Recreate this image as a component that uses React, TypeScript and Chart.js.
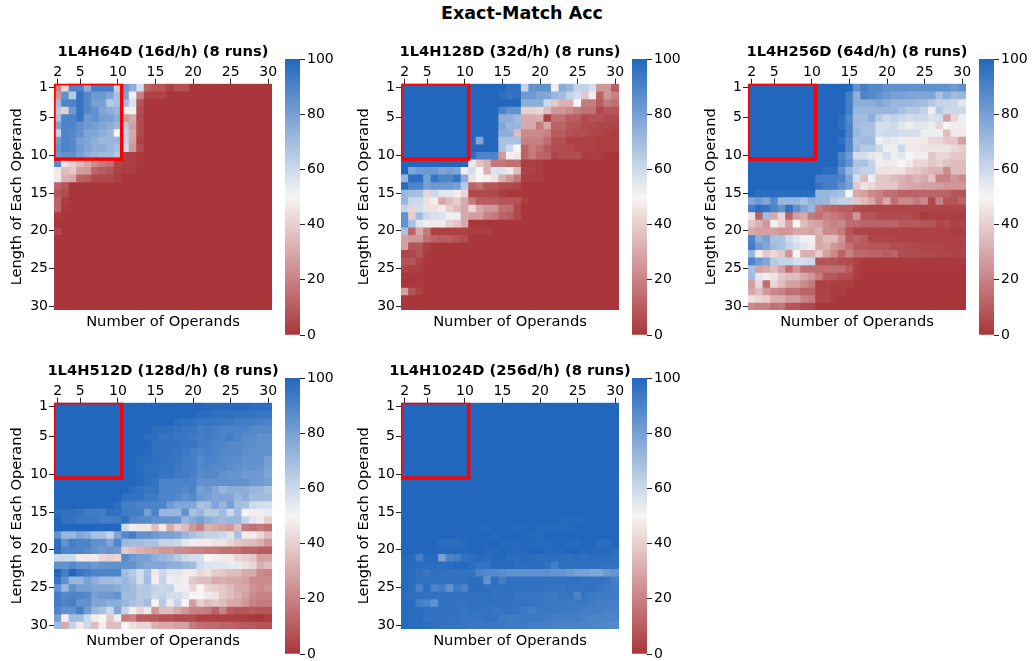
import React, { useEffect, useRef } from "react";
import { Chart, registerables } from "chart.js";
Chart.register(...registerables);

const operands = [2,3,4,5,6,7,8,9,10,11,12,13,14,15,16,17,18,19,20,21,22,23,24,25,26,27,28,29,30];
const lengths = [1,2,3,4,5,6,7,8,9,10,11,12,13,14,15,16,17,18,19,20,21,22,23,24,25,26,27,28,29,30];
const xTicks = [2,5,10,15,20,25,30];
const yTicks = [1,5,10,15,20,25,30];
const barTicks = [0,20,40,60,80,100];
const boxOperands = [2,10];
const boxLengths = [1,10];

const acc64 = [
[20,42,90,90,75,92,92,92,62,82,75,58,12,8,8,3,7,7,0,0,0,0,0,0,0,0,0,0,0],
[25,85,65,95,88,82,82,78,68,80,52,20,3,3,3,0,0,0,0,0,0,0,0,0,0,0,0,0,0],
[70,90,90,95,88,80,80,65,68,70,57,8,0,0,0,0,0,0,0,0,0,0,0,0,0,0,0,0,0],
[65,40,82,95,88,85,78,75,72,48,52,6,0,0,0,0,0,0,0,0,0,0,0,0,0,0,0,0,0],
[68,90,90,95,82,85,80,80,75,25,30,5,0,0,0,0,0,0,0,0,0,0,0,0,0,0,0,0,0],
[80,90,90,85,82,80,78,75,72,65,28,6,0,0,0,0,0,0,0,0,0,0,0,0,0,0,0,0,0],
[62,90,88,85,78,78,75,72,50,62,30,5,0,0,0,0,0,0,0,0,0,0,0,0,0,0,0,0,0],
[82,90,88,80,78,75,72,72,72,62,28,3,0,0,0,0,0,0,0,0,0,0,0,0,0,0,0,0,0],
[85,90,88,82,78,75,75,72,68,58,25,6,0,0,0,0,0,0,0,0,0,0,0,0,0,0,0,0,0],
[82,85,85,80,75,72,70,70,65,3,2,0,0,0,0,0,0,0,0,0,0,0,0,0,0,0,0,0,0],
[88,45,40,35,30,22,18,15,4,2,2,0,0,0,0,0,0,0,0,0,0,0,0,0,0,0,0,0,0],
[47,35,38,27,25,12,10,8,3,2,2,0,0,0,0,0,0,0,0,0,0,0,0,0,0,0,0,0,0],
[47,32,30,12,10,5,5,5,2,0,0,0,0,0,0,0,0,0,0,0,0,0,0,0,0,0,0,0,0],
[12,8,0,0,0,0,0,0,0,0,0,0,0,0,0,0,0,0,0,0,0,0,0,0,0,0,0,0,0],
[8,6,0,0,0,0,0,0,0,0,0,0,0,0,0,0,0,0,0,0,0,0,0,0,0,0,0,0,0],
[12,2,0,0,0,0,0,0,0,0,0,0,0,0,0,0,0,0,0,0,0,0,0,0,0,0,0,0,0],
[12,1,0,0,0,0,0,0,0,0,0,0,0,0,0,0,0,0,0,0,0,0,0,0,0,0,0,0,0],
[1,0,0,0,0,0,0,0,0,0,0,0,0,0,0,0,0,0,0,0,0,0,0,0,0,0,0,0,0],
[0,0,0,0,0,0,0,0,0,0,0,0,0,0,0,0,0,0,0,0,0,0,0,0,0,0,0,0,0],
[5,0,0,0,0,0,0,0,0,0,0,0,0,0,0,0,0,0,0,0,0,0,0,0,0,0,0,0,0],
[0,0,0,0,0,0,0,0,0,0,0,0,0,0,0,0,0,0,0,0,0,0,0,0,0,0,0,0,0],
[0,0,0,0,0,0,0,0,0,0,0,0,0,0,0,0,0,0,0,0,0,0,0,0,0,0,0,0,0],
[0,0,0,0,0,0,0,0,0,0,0,0,0,0,0,0,0,0,0,0,0,0,0,0,0,0,0,0,0],
[0,0,0,0,0,0,0,0,0,0,0,0,0,0,0,0,0,0,0,0,0,0,0,0,0,0,0,0,0],
[0,0,0,0,0,0,0,0,0,0,0,0,0,0,0,0,0,0,0,0,0,0,0,0,0,0,0,0,0],
[0,0,0,0,0,0,0,0,0,0,0,0,0,0,0,0,0,0,0,0,0,0,0,0,0,0,0,0,0],
[0,0,0,0,0,0,0,0,0,0,0,0,0,0,0,0,0,0,0,0,0,0,0,0,0,0,0,0,0],
[0,0,0,0,0,0,0,0,0,0,0,0,0,0,0,0,0,0,0,0,0,0,0,0,0,0,0,0,0],
[0,0,0,0,0,0,0,0,0,0,0,0,0,0,0,0,0,0,0,0,0,0,0,0,0,0,0,0,0],
[0,0,0,0,0,0,0,0,0,0,0,0,0,0,0,0,0,0,0,0,0,0,0,0,0,0,0,0,0],
];

const acc128 = [
[100,100,100,100,100,100,100,100,100,100,100,100,100,100,97,97,62,85,85,85,48,75,72,62,62,58,25,25,10],
[100,100,100,100,100,100,100,100,100,100,100,100,100,98,95,97,82,82,78,78,72,70,62,58,38,48,12,25,20],
[100,100,100,100,100,100,100,100,100,100,100,100,100,100,100,100,75,75,75,60,38,32,32,50,18,18,10,18,15],
[100,100,100,100,100,100,100,100,100,100,100,100,100,90,85,85,40,40,42,35,25,25,22,18,15,15,5,8,8],
[100,100,100,100,100,100,100,100,100,100,100,100,100,75,75,70,30,30,32,2,15,15,10,10,5,7,7,5,5],
[100,100,100,100,100,100,100,100,100,100,100,100,100,78,72,72,30,30,18,30,12,12,8,8,5,5,4,4,4],
[100,100,100,100,100,100,100,100,100,100,100,100,100,75,75,35,22,22,22,20,10,10,7,6,6,4,4,3,2],
[100,100,100,100,100,100,100,100,100,100,78,100,100,68,68,68,20,20,20,15,7,7,3,3,3,3,2,2,2],
[100,100,100,100,100,100,100,100,100,100,100,100,100,68,60,50,12,18,15,10,6,6,5,3,3,3,2,2,2],
[100,100,100,100,100,100,100,100,100,98,90,90,90,25,48,47,12,18,12,12,4,6,6,6,2,2,2,0,0],
[100,100,100,100,100,100,100,100,100,47,37,32,18,18,15,15,2,2,2,0,0,0,0,0,0,0,0,0,0],
[100,78,82,82,82,78,80,78,48,58,50,32,56,56,47,35,3,3,2,0,0,0,0,0,0,0,0,0,0],
[72,98,98,80,95,90,90,95,75,45,50,48,45,32,25,18,2,2,2,0,0,0,0,0,0,0,0,0,0],
[98,90,90,80,82,82,82,80,65,12,15,8,8,5,5,4,0,0,0,0,0,0,0,0,0,0,0,0,0],
[72,70,68,42,60,55,55,48,42,5,5,5,5,2,0,0,0,0,0,0,0,0,0,0,0,0,0,0,0],
[72,60,60,45,48,30,35,40,30,18,10,10,10,8,8,8,2,0,0,0,0,0,0,0,0,0,0,0,0],
[62,42,58,45,45,47,40,35,30,42,30,25,25,15,15,5,0,0,0,0,0,0,0,0,0,0,0,0,0],
[85,40,70,60,57,57,52,52,30,27,27,20,18,12,10,5,0,0,0,0,0,0,0,0,0,0,0,0,0],
[85,68,55,52,47,47,40,38,30,0,0,0,0,0,0,0,0,0,0,0,0,0,0,0,0,0,0,0,0],
[68,12,30,18,3,3,3,3,3,2,2,2,0,0,0,0,0,0,0,0,0,0,0,0,0,0,0,0,0],
[28,25,25,15,12,10,10,8,6,0,0,0,0,0,0,0,0,0,0,0,0,0,0,0,0,0,0,0,0],
[28,8,8,2,0,0,0,0,0,0,0,0,0,0,0,0,0,0,0,0,0,0,0,0,0,0,0,0,0],
[4,4,8,1,0,0,0,0,0,0,0,0,0,0,0,0,0,0,0,0,0,0,0,0,0,0,0,0,0],
[8,8,3,0,0,0,0,0,0,0,0,0,0,0,0,0,0,0,0,0,0,0,0,0,0,0,0,0,0],
[4,2,2,0,0,0,0,0,0,0,0,0,0,0,0,0,0,0,0,0,0,0,0,0,0,0,0,0,0],
[0,0,0,0,0,0,0,0,0,0,0,0,0,0,0,0,0,0,0,0,0,0,0,0,0,0,0,0,0],
[0,0,1,0,0,0,0,0,0,0,0,0,0,0,0,0,0,0,0,0,0,0,0,0,0,0,0,0,0],
[28,8,3,0,0,0,0,0,0,0,0,0,0,0,0,0,0,0,0,0,0,0,0,0,0,0,0,0,0],
[0,0,0,0,0,0,0,0,0,0,0,0,0,0,0,0,0,0,0,0,0,0,0,0,0,0,0,0,0],
[0,0,0,0,0,0,0,0,0,0,0,0,0,0,0,0,0,0,0,0,0,0,0,0,0,0,0,0,0],
];

const acc256 = [
[100,100,100,100,100,100,100,100,100,100,100,100,100,100,85,92,88,88,85,85,85,85,85,85,85,85,85,82,85],
[100,100,100,100,100,100,100,100,100,100,100,100,100,92,75,90,88,85,82,80,80,78,78,78,78,68,75,70,72],
[100,100,100,100,100,100,100,100,100,100,100,100,100,92,75,75,75,78,75,72,72,72,70,70,65,62,62,60,55],
[100,100,100,100,100,100,100,100,100,100,100,100,100,92,72,72,72,72,72,72,68,65,65,62,52,65,60,60,60],
[100,100,100,100,100,100,100,100,100,100,100,100,98,88,70,70,75,65,60,62,60,58,60,60,57,58,28,42,52],
[100,100,100,100,100,100,100,100,100,100,100,100,97,90,70,68,68,58,58,60,55,52,55,55,52,42,50,48,48],
[100,100,100,100,100,100,100,100,100,100,100,100,100,90,72,68,68,58,60,60,58,58,58,52,52,52,35,47,47],
[100,100,100,100,100,100,100,100,100,100,100,100,97,88,68,70,70,52,55,54,52,47,48,47,42,42,38,38,28],
[100,100,100,100,100,100,100,100,100,100,100,100,100,88,70,65,65,60,52,52,60,47,47,45,45,45,45,42,40],
[100,100,100,100,100,100,100,100,100,100,100,100,90,82,58,58,55,53,58,52,55,50,48,48,38,42,42,38,38],
[100,100,100,100,100,100,100,100,100,100,100,100,92,85,68,68,62,48,47,47,50,47,42,42,38,40,37,35,35],
[100,100,100,100,100,100,100,100,100,100,98,98,85,72,65,62,62,45,45,45,45,40,38,35,33,33,22,35,35],
[100,100,100,100,100,100,100,100,100,92,92,92,90,78,58,35,52,38,38,35,33,30,33,30,37,20,20,25,22],
[100,100,100,100,100,100,100,100,100,95,92,92,85,80,38,45,42,38,38,38,32,30,30,28,28,27,25,25,25],
[100,98,98,98,98,98,98,98,98,72,72,70,68,50,30,28,22,20,15,15,12,12,12,12,12,12,12,8,8],
[78,82,78,88,72,72,72,68,75,72,72,65,62,62,38,35,30,20,30,15,22,22,18,22,5,20,8,8,12],
[92,98,95,90,85,96,85,78,72,18,14,12,10,10,6,5,4,4,4,4,4,4,4,4,4,4,4,4,4],
[45,12,70,30,42,12,28,30,18,15,20,18,15,12,25,8,8,6,6,6,6,6,4,1,2,2,2,2,2],
[38,32,25,52,42,28,50,35,30,28,22,20,22,14,14,12,12,12,12,12,9,9,9,8,8,4,6,3,4],
[30,28,28,28,25,25,30,30,28,32,22,22,18,8,4,4,3,3,3,3,3,3,3,3,3,3,3,2,2],
[90,75,80,68,68,60,55,52,48,30,35,35,25,10,12,10,4,4,4,4,3,3,3,3,3,3,3,3,3],
[92,82,78,70,68,62,58,55,47,30,32,25,22,15,10,10,8,8,8,6,6,5,5,4,4,4,3,3,3],
[72,48,38,42,38,25,50,32,32,40,28,22,12,20,14,14,12,12,10,12,6,6,6,5,5,4,4,3,4],
[90,82,78,65,62,62,58,58,60,8,8,8,6,6,3,1,1,1,1,1,1,1,1,1,1,1,1,1,1],
[68,28,30,35,28,15,25,15,15,14,15,15,15,10,2,0,0,0,0,0,0,0,0,0,0,0,0,0,0],
[70,55,48,45,38,35,35,30,25,18,9,9,6,6,2,0,0,0,0,0,0,0,0,0,0,0,0,0,0],
[28,42,15,42,35,28,28,22,18,3,3,2,2,2,0,0,0,0,0,0,0,0,0,0,0,0,0,0,0],
[30,35,25,22,20,15,15,12,12,3,3,2,2,0,0,0,0,0,0,0,0,0,0,0,0,0,0,0,0],
[45,42,40,32,32,27,27,20,18,4,4,1,0,0,0,0,0,0,0,0,0,0,0,0,0,0,0,0,0],
[22,20,20,15,17,8,8,5,5,0,0,0,0,0,0,0,0,0,0,0,0,0,0,0,0,0,0,0,0],
];

const acc512 = [
[100,100,100,100,100,100,100,100,100,100,100,100,100,100,100,100,100,100,100,100,99,99,99,99,99,99,98,98,98],
[100,100,100,100,100,100,100,100,100,100,100,100,100,100,100,100,100,100,100,98,98,97,97,97,96,96,96,95,95],
[100,100,100,100,100,100,100,100,100,100,100,100,100,100,100,100,98,97,97,95,95,95,94,94,92,92,92,91,90],
[100,100,100,100,100,100,100,100,100,100,100,100,100,98,98,97,96,95,95,92,93,92,90,90,90,90,88,88,88],
[100,100,100,100,100,100,100,100,100,100,100,100,98,98,95,96,95,95,93,92,93,92,90,92,90,88,87,85,85],
[100,100,100,100,100,100,100,100,100,100,100,100,100,97,97,96,96,95,95,92,92,90,90,88,88,87,87,85,85],
[100,100,100,100,100,100,100,100,100,100,100,100,99,97,96,96,95,94,92,90,92,90,88,88,88,86,85,85,85],
[100,100,100,100,100,100,100,100,100,100,100,98,98,98,96,96,95,93,92,88,90,90,88,87,87,85,85,85,80],
[100,100,100,100,100,100,100,100,100,100,100,98,97,97,96,96,94,92,92,88,90,88,88,86,85,84,85,84,80],
[100,100,100,100,100,100,100,100,100,100,100,99,98,97,95,95,93,93,91,87,88,88,85,84,84,82,82,82,78],
[100,100,100,100,100,100,100,100,100,100,100,99,97,95,90,90,90,90,90,85,85,85,85,85,85,85,82,82,80],
[100,100,100,100,100,100,100,100,100,100,98,96,95,95,90,90,90,88,90,80,82,78,72,75,75,75,72,72,68],
[100,100,100,100,100,100,100,100,100,97,96,96,93,93,90,90,88,85,88,82,80,78,78,78,72,75,70,70,70],
[100,100,100,100,100,100,100,100,98,92,92,90,90,90,90,82,78,78,78,68,70,78,72,80,70,68,60,58,58],
[98,97,97,95,93,93,92,97,96,93,92,92,80,90,72,72,72,85,68,72,65,65,70,60,70,50,48,52,53],
[100,96,96,94,94,94,92,92,93,97,90,88,88,85,85,84,84,72,76,80,75,72,70,72,72,62,55,47,40],
[100,100,100,100,100,100,100,100,100,60,52,46,46,35,47,30,40,35,25,20,32,30,28,25,35,18,15,18,15],
[85,72,72,78,75,68,68,62,78,88,92,85,85,82,80,80,78,72,68,65,62,62,60,56,68,47,48,42,35],
[97,85,92,90,90,85,85,78,90,72,70,70,68,68,62,62,60,55,52,47,47,45,45,42,38,36,35,32,25],
[97,90,90,90,88,85,82,84,82,38,35,32,30,28,25,25,22,22,20,20,18,18,16,15,15,12,12,10,10],
[60,60,60,47,47,47,42,40,42,88,82,80,80,75,72,70,65,60,58,58,50,48,47,47,42,40,38,28,28],
[85,85,88,85,85,82,85,85,85,85,85,80,78,78,78,75,75,72,70,58,56,55,55,54,54,45,42,32,35],
[100,92,100,95,92,90,90,90,90,70,65,58,68,47,60,55,55,47,47,42,45,40,38,35,35,30,30,22,20],
[95,85,72,72,80,75,70,70,68,72,68,58,70,48,62,52,47,48,38,35,35,30,32,30,30,28,22,22,22],
[85,72,85,80,80,78,78,78,75,72,70,65,65,62,60,62,52,52,42,50,42,40,38,35,30,30,25,22,25],
[92,88,90,90,88,80,82,82,85,70,70,65,65,60,62,58,58,55,50,50,47,45,38,35,32,28,22,20,20],
[92,90,92,85,85,78,78,75,75,72,68,65,70,50,65,47,62,50,28,40,35,38,35,30,30,25,20,18,18],
[90,85,85,92,82,72,68,60,78,62,48,42,47,25,35,35,30,25,20,20,18,12,20,10,8,8,10,8,8],
[80,48,70,70,60,48,50,38,52,18,20,10,10,10,7,7,6,6,6,3,3,3,3,2,2,2,1,0,2],
[70,30,62,47,60,35,48,35,35,50,44,42,42,32,30,30,28,28,18,15,14,14,12,12,10,9,9,8,8],
];

const acc1024 = [
[100,100,100,100,100,100,100,100,100,100,100,100,100,100,100,100,100,100,100,100,100,100,100,100,100,100,100,100,100],
[100,100,100,100,100,100,100,100,100,100,100,100,100,100,100,100,100,100,100,100,100,100,100,100,100,100,100,100,100],
[100,100,100,100,100,100,100,100,100,100,100,100,100,100,100,100,100,100,100,100,100,100,100,100,100,100,100,100,100],
[100,100,100,100,100,100,100,100,100,100,100,100,100,100,100,100,100,100,100,100,100,100,100,100,100,100,100,100,100],
[100,100,100,100,100,100,100,100,100,100,100,100,100,100,100,100,100,100,100,100,100,100,100,100,100,100,100,100,100],
[100,100,100,100,100,100,100,100,100,100,100,100,100,100,100,100,100,100,100,100,100,100,100,100,100,100,100,100,100],
[100,100,100,100,100,100,100,100,100,100,100,100,100,100,100,100,100,100,100,100,100,100,100,100,100,100,100,100,100],
[100,100,100,100,100,100,100,100,100,100,100,100,100,100,100,100,100,100,100,100,100,100,100,100,100,100,100,100,100],
[100,100,100,100,100,100,100,100,100,100,100,100,100,100,100,100,100,100,100,100,100,100,100,100,100,100,100,100,100],
[100,100,100,100,100,100,100,100,100,100,100,100,100,100,100,100,100,100,100,100,100,100,100,100,100,100,100,100,100],
[100,100,100,100,100,100,100,100,100,100,100,100,100,100,100,100,100,100,100,100,100,100,100,100,100,100,100,100,100],
[100,100,100,100,100,100,100,100,100,100,100,100,100,100,100,100,100,100,100,100,100,100,100,100,100,100,100,100,100],
[100,100,100,100,100,100,100,100,100,100,100,100,100,100,100,100,100,100,100,100,100,100,100,100,100,100,100,100,100],
[100,100,100,100,100,100,100,100,100,100,100,100,100,100,100,100,100,100,100,100,100,100,100,100,100,100,100,100,100],
[100,100,100,100,100,100,100,100,100,100,100,100,100,100,100,100,100,100,100,100,100,100,100,100,100,100,100,100,100],
[100,100,100,100,100,100,100,100,100,100,100,100,100,100,100,100,100,100,100,100,100,99,99,99,100,100,100,100,100],
[100,100,100,100,100,100,100,100,100,100,99,99,100,100,100,99,99,100,99,99,99,99,99,100,100,100,100,100,100],
[100,100,100,100,100,100,100,100,100,100,100,100,99,100,100,100,100,99,99,100,100,100,100,100,100,100,100,100,100],
[100,100,100,100,100,98,98,98,99,100,100,100,100,99,99,99,100,99,99,99,100,100,99,99,100,100,98,98,100],
[100,100,100,100,100,99,99,99,99,100,100,99,99,100,99,99,99,100,100,99,99,99,100,100,99,99,99,99,98],
[99,99,92,99,99,80,90,92,96,98,99,98,99,99,98,98,99,98,97,98,98,98,97,98,97,98,98,98,97],
[99,99,98,98,98,98,98,99,99,98,96,96,99,99,99,98,98,98,98,97,92,97,97,97,97,97,97,96,96],
[99,98,97,95,97,96,96,96,96,96,90,88,88,87,85,85,85,85,85,85,84,84,82,80,80,78,78,82,84],
[99,98,97,96,97,97,97,96,96,98,98,85,97,92,97,97,97,97,97,96,96,97,97,97,96,96,96,95,92],
[99,98,90,98,90,92,85,94,90,98,98,97,97,97,97,97,96,96,96,96,96,95,96,96,96,96,95,94,92],
[98,97,97,96,97,96,96,96,96,97,97,97,96,96,96,95,95,95,95,94,94,95,95,90,95,94,93,93,93],
[99,98,92,90,85,96,96,96,96,97,96,97,97,96,96,96,96,95,95,94,94,94,94,94,94,93,92,92,92],
[99,98,98,97,97,97,96,96,95,96,96,96,95,95,96,95,94,92,94,94,94,93,93,93,92,92,92,91,91],
[99,98,98,96,96,97,96,96,95,95,95,96,96,94,93,93,94,94,94,93,92,92,92,92,91,90,90,90,90],
[99,98,98,98,97,96,96,95,95,94,94,95,94,94,93,93,93,92,92,92,91,91,91,90,90,90,89,89,88],
];

const stops = [[168,54,58],[247,245,245],[34,103,189]];
function colorFor(v: number) {
  const t = v / 100;
  const a = t < 0.5 ? stops[0] : stops[1];
  const b = t < 0.5 ? stops[1] : stops[2];
  const f = t < 0.5 ? t * 2 : (t - 0.5) * 2;
  return `rgb(${a.map((c, i) => Math.round(c + (b[i] - c) * f)).join(",")})`;
}

const FONT = "'DejaVu Sans'";
const INK = "#000000";

const boxPlugin = {
  id: "box",
  afterDatasetsDraw(chart: any) {
    const { ctx, chartArea: a } = chart;
    const xs = chart.scales.xTop;
    const ys = chart.scales.y;
    const step = xs.getPixelForValue(1) - xs.getPixelForValue(0);
    const x0 = xs.getPixelForValue(operands.indexOf(boxOperands[0])) - step / 2;
    const x1 = xs.getPixelForValue(operands.indexOf(boxOperands[1])) + step / 2;
    const y0 = ys.getPixelForValue(boxLengths[0] - 0.5);
    const y1 = ys.getPixelForValue(boxLengths[1] + 0.5);
    ctx.save();
    ctx.beginPath();
    ctx.rect(a.left, a.top, a.width, a.height + 2);
    ctx.clip();
    ctx.strokeStyle = "#ff0000";
    ctx.lineWidth = 3.5;
    ctx.lineJoin = "miter";
    ctx.strokeRect(x0, y0, x1 - x0, y1 - y0);
    ctx.restore();
  },
};

const TOP_H = 44;
const TITLE_H = 22;
const LEFT_W = 54;
const PLOT_W = 218;
const PLOT_H = 226;
const BOTTOM_H = 26;
const RIGHT_PAD = 54;
const CANVAS_W = LEFT_W + PLOT_W + RIGHT_PAD;
const CANVAS_H = TOP_H + PLOT_H + BOTTOM_H;

function noPad(s: any) {
  s.paddingLeft = 0;
  s.paddingRight = 0;
  s.paddingTop = 0;
  s.paddingBottom = 0;
}

function HeatMap({ title, rows, left, top }: any) {
  const ref = useRef<HTMLCanvasElement>(null);
  useEffect(() => {
    const datasets = rows.map((row: number[], r: number) => ({
      xAxisID: "xTop",
      yAxisID: "y",
      data: row.map(() => [lengths[r] - 0.5, lengths[r] + 0.5]),
      backgroundColor: row.map(colorFor),
      borderWidth: 0,
      inflateAmount: 0.4,
      barPercentage: 1,
      categoryPercentage: 1,
      grouped: false,
    }));
    const tickFont = { family: FONT, size: 14 };
    const chart = new Chart(ref.current as any, {
      type: "bar",
      data: { labels: operands.map(String), datasets },
      plugins: [boxPlugin],
      options: {
        animation: false,
        responsive: false,
        layout: { padding: 0 },
        plugins: {
          legend: { display: false },
          tooltip: { enabled: false },
          title: {
            display: true,
            text: title,
            color: INK,
            font: { family: FONT, size: 14.7, weight: "bold", lineHeight: 1.2 },
            padding: { top: 3, bottom: 1 },
            align: "center",
          },
        },
        scales: {
          xTop: {
            type: "category",
            position: "top",
            offset: true,
            labels: operands.map(String),
            grid: { display: true, drawOnChartArea: false, offset: false, tickLength: 5, tickColor: "#262626", tickWidth: 1 },
            border: { display: false },
            ticks: { autoSkip: false, maxRotation: 0, padding: -2.5, color: INK, font: tickFont },
            afterBuildTicks(s: any) {
              s.ticks = s.ticks.filter((t: any) => xTicks.includes(operands[t.value]));
            },
            afterFit(s: any) { s.height = TOP_H - TITLE_H; noPad(s); },
          },
          xBottom: {
            type: "category",
            position: "bottom",
            labels: operands.map(String),
            grid: { display: false },
            border: { display: false },
            ticks: { display: false },
            title: { display: true, text: "Number of Operands", color: INK, font: { family: FONT, size: 14.7 }, padding: { top: 0, bottom: 5 } },
            afterFit(s: any) { s.height = BOTTOM_H; noPad(s); },
          },
          y: {
            type: "linear",
            reverse: true,
            min: 0.5,
            max: 30.5,
            grid: { display: true, drawOnChartArea: false, tickLength: 5, tickColor: "#262626", tickWidth: 1 },
            border: { display: false },
            ticks: { padding: 1, color: INK, font: tickFont, autoSkip: false },
            afterBuildTicks(s: any) { s.ticks = yTicks.map((value) => ({ value })); },
            title: { display: true, text: "Length of Each Operand", color: INK, font: { family: FONT, size: 14.6 }, padding: { top: 8, bottom: 0 } },
            afterFit(s: any) { s.width = LEFT_W; noPad(s); },
          },
          yRightSpacer: {
            type: "linear",
            position: "right",
            display: true,
            grid: { display: false },
            border: { display: false },
            ticks: { display: false },
            afterFit(s: any) { s.width = RIGHT_PAD; noPad(s); },
          },
        },
      } as any,
    });
    return () => chart.destroy();
  }, []);
  return <canvas ref={ref} width={CANVAS_W} height={CANVAS_H} style={{ position: "absolute", left, top, display: "block" }} />;
}

const BAR_W = 15;
const BAR_CANVAS_W = 54;
const BAR_PAD = 10;
const BAR_H = 276;

function ColorBar({ left, top }: any) {
  const ref = useRef<HTMLCanvasElement>(null);
  useEffect(() => {
    const chart = new Chart(ref.current as any, {
      type: "bar",
      data: {
        labels: ["Acc"],
        datasets: [{
          data: [[barTicks[0], barTicks[barTicks.length - 1]]],
          borderWidth: 0,
          barPercentage: 1,
          categoryPercentage: 1,
          backgroundColor(c: any) {
            const a = c.chart.chartArea;
            if (!a) return "#fff";
            const g = c.chart.ctx.createLinearGradient(0, a.bottom, 0, a.top);
            g.addColorStop(0, colorFor(0));
            g.addColorStop(0.5, colorFor(50));
            g.addColorStop(1, colorFor(100));
            return g;
          },
        }],
      },
      options: {
        animation: false,
        responsive: false,
        layout: { padding: { top: BAR_PAD, bottom: BAR_PAD, left: 0, right: 0 } },
        plugins: { legend: { display: false }, tooltip: { enabled: false }, title: { display: false } },
        scales: {
          x: { display: false },
          y: {
            position: "right",
            min: 0,
            max: 100,
            grid: { display: true, drawOnChartArea: false, tickLength: 5, tickColor: "#262626", tickWidth: 1 },
            border: { display: false },
            ticks: { color: INK, font: { family: FONT, size: 14 }, padding: 2, autoSkip: false },
            afterBuildTicks(s: any) { s.ticks = barTicks.map((value) => ({ value })); },
            afterFit(s: any) { s.width = BAR_CANVAS_W - BAR_W; noPad(s); },
          },
        },
      } as any,
    });
    return () => chart.destroy();
  }, []);
  return <canvas ref={ref} width={BAR_CANVAS_W} height={BAR_H + BAR_PAD * 2} style={{ position: "absolute", left, top: top - BAR_PAD, display: "block" }} />;
}

const panels = [
  { title: "1L4H64D (16d/h) (8 runs)", rows: acc64, plotX: 54, plotY: 84 },
  { title: "1L4H128D (32d/h) (8 runs)", rows: acc128, plotX: 401, plotY: 84 },
  { title: "1L4H256D (64d/h) (8 runs)", rows: acc256, plotX: 748, plotY: 84 },
  { title: "1L4H512D (128d/h) (8 runs)", rows: acc512, plotX: 54, plotY: 403 },
  { title: "1L4H1024D (256d/h) (8 runs)", rows: acc1024, plotX: 401, plotY: 403 },
];

export default function App() {
  return (
    <div style={{ position: "fixed", left: 0, top: 0, width: 1033, height: 661, background: "#fff", overflow: "hidden" }}>
      <div style={{ position: "absolute", left: 0, width: 1044, top: 3, textAlign: "center", fontFamily: FONT, fontWeight: "bold", fontSize: 17.5, color: INK }}>Exact-Match Acc</div>
      {panels.map((p) => (
        <React.Fragment key={p.title}>
          <ColorBar left={p.plotX + 231} top={p.plotY - 25} />
          <HeatMap title={p.title} rows={p.rows} left={p.plotX - LEFT_W} top={p.plotY - TOP_H} />
        </React.Fragment>
      ))}
    </div>
  );
}
